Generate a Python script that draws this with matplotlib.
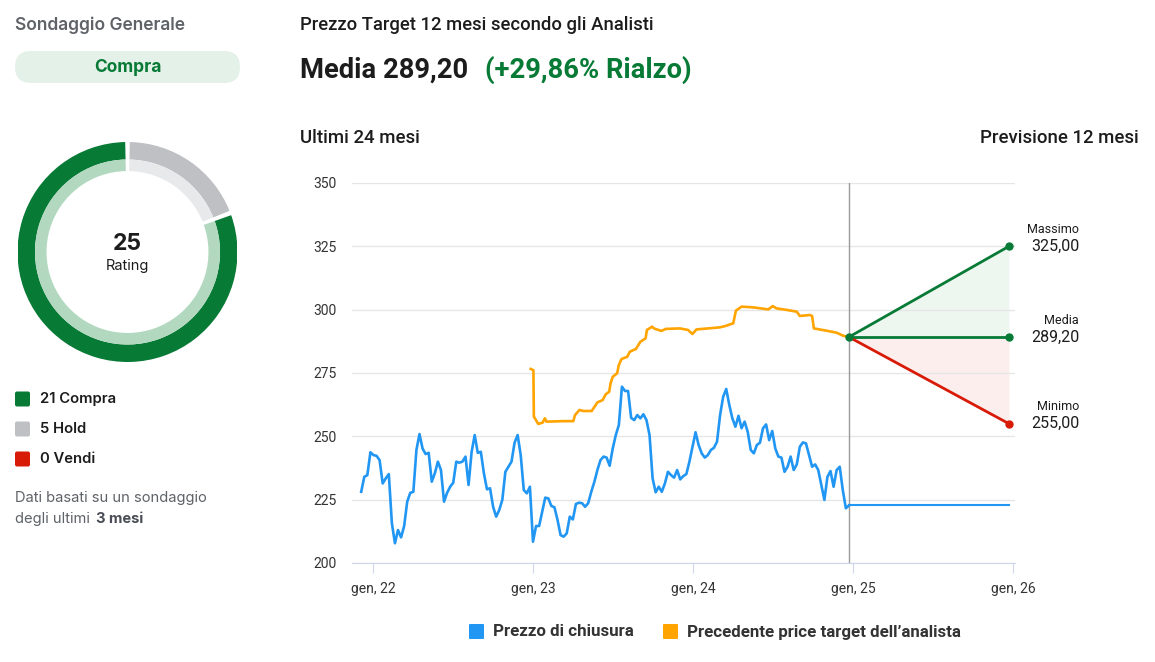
import matplotlib.pyplot as plt
import pandas as pd
from matplotlib.patches import Wedge, FancyBboxPatch

# --- data ---
close = [228.1, 234.0, 234.7, 243.7, 242.6, 242.3, 240.6, 231.4, 233.4, 235.1,
         215.7, 207.8, 213.0, 210.1, 214.6, 224.2, 227.7, 228.1, 244.6, 250.9,
         245.2, 243.0, 243.5, 232.1, 235.4, 240.0, 236.7, 224.2, 227.7, 230.1,
         231.7, 240.0, 239.6, 240.0, 242.0, 230.8, 243.9, 250.5, 243.5, 243.9,
         235.4, 229.1, 229.5, 222.2, 218.3, 220.9, 224.9, 236.0, 238.0, 240.0,
         247.5, 250.5, 242.6, 228.8, 227.5, 230.1, 208.4, 214.6, 214.6, 220.3,
         225.8, 225.5, 222.5, 222.0, 217.0, 211.0, 210.4, 211.7, 218.3, 217.2,
         223.3, 223.8, 223.6, 222.2, 223.6, 228.1, 232.0, 236.7, 240.6, 242.0,
         241.6, 238.4, 245.2, 250.5, 254.5, 269.6, 267.9, 267.9, 257.3, 256.4,
         258.4, 257.1, 258.7, 256.4, 250.5, 233.4, 227.9, 230.1, 228.1, 231.4,
         236.0, 234.7, 233.7, 236.7, 233.0, 234.3, 235.1, 240.0, 245.9, 251.6,
         246.6, 243.3, 241.6, 242.6, 244.6, 245.5, 247.9, 258.4, 265.6, 268.7,
         262.4, 257.1, 253.8, 258.1, 253.2, 255.8, 251.8, 244.6, 243.3, 246.6,
         247.5, 253.2, 254.7, 248.5, 252.1, 245.2, 242.0, 241.6, 236.0, 238.0,
         242.0, 236.7, 238.9, 245.9, 247.6, 247.2, 242.6, 238.0, 238.9, 236.7,
         230.8, 224.9, 234.0, 236.3, 230.1, 236.7, 238.0, 228.8, 221.6, 222.7]
close_start, close_end = "2021-12-05", "2024-12-22"

target_dates = ["2022-12-27", "2023-01-02", "2023-01-03", "2023-01-13", "2023-01-23",
                "2023-01-28", "2023-02-01", "2023-03-11", "2023-04-03", "2023-04-07",
                "2023-04-17", "2023-04-26", "2023-05-15", "2023-05-28", "2023-06-09",
                "2023-06-16", "2023-06-24", "2023-06-27", "2023-07-02", "2023-07-12",
                "2023-07-16", "2023-07-22", "2023-08-04", "2023-08-10", "2023-08-24",
                "2023-09-03", "2023-09-15", "2023-09-18", "2023-09-30", "2023-10-04",
                "2023-10-21", "2023-10-31", "2023-12-02", "2023-12-21", "2023-12-25",
                "2023-12-31", "2024-01-09", "2024-03-02", "2024-03-14", "2024-04-02",
                "2024-04-08", "2024-04-21", "2024-05-18", "2024-06-21", "2024-07-01",
                "2024-07-10", "2024-08-02", "2024-08-25", "2024-09-01", "2024-09-24",
                "2024-09-29", "2024-10-03", "2024-11-01", "2024-11-24", "2024-12-09",
                "2024-12-22"]
target_vals = [276.6, 276.1, 257.8, 254.9, 255.4, 257.1, 255.8, 256.0, 256.0, 258.4,
               260.4, 260.0, 260.0, 263.4, 264.3, 266.6, 267.6, 270.9, 273.5, 274.9,
               278.2, 280.5, 281.4, 283.4, 284.5, 287.3, 288.7, 292.0, 293.3, 292.6,
               291.6, 292.4, 292.6, 292.0, 291.3, 290.4, 292.2, 293.0, 293.5, 294.6,
               299.6, 301.2, 300.9, 300.1, 301.4, 300.5, 299.9, 299.2, 297.5, 297.9,
               297.5, 292.6, 291.7, 290.9, 289.7, 289.2]

forecast_names = ["Massimo", "Media", "Minimo"]
forecast_vals = [325.0, 289.2, 255.0]
today, horizon = "2024-12-22", "2025-12-22"

rating_labels = ["Compra", "Hold", "Vendi"]
rating_counts = [21, 5, 0]
rating_total = 25

year_ticks = ["2022-01-01", "2023-01-01", "2024-01-01", "2025-01-01", "2026-01-01"]
year_labels = ["gen, 22", "gen, 23", "gen, 24", "gen, 25", "gen, 26"]

# --- colours ---
GREEN, GREEN_L = "#077a36", "#b2d9bf"
GRAY, GRAY_L = "#bfc0c4", "#e8e9eb"
RED = "#d81b07"
BLUE, ORANGE = "#2196f3", "#ffa400"
DARK, MUTED = "#1c1c1c", "#5f6368"
LEFT, RIGHT = ["Inter", "DejaVu Sans"], ["Roboto", "DejaVu Sans"]

W, H = 1155, 662
fig = plt.figure(figsize=(W / 100, H / 100), dpi=100)

# overlay in pixel coordinates for the text blocks
ov = fig.add_axes([0, 0, 1, 1])
ov.set_xlim(0, W)
ov.set_ylim(H, 0)
ov.axis("off")

# left panel
ov.text(15, 25, "Sondaggio Generale", fontsize=12.5, fontweight="semibold", color=MUTED,
        va="center", family=LEFT)
ov.add_patch(FancyBboxPatch((15, 51), 225, 32, boxstyle="round,pad=0,rounding_size=16",
                            fc="#e4f1e8", ec="none"))
ov.text(127.5, 67.5, "Compra", fontsize=12.5, fontweight="bold", color=GREEN,
        ha="center", va="center", family=LEFT)

sq_cols = [GREEN, GRAY, RED]
for i, (lab, cnt) in enumerate(zip(rating_labels, rating_counts)):
    y = 399 + 30 * i
    ov.add_patch(FancyBboxPatch((15, y - 7.5), 15, 15, boxstyle="round,pad=0,rounding_size=2",
                                fc=sq_cols[i], ec="none"))
    ov.text(40, y, f"{cnt} {lab}", fontsize=10.7, fontweight="semibold", color=DARK,
            va="center", family=LEFT)

ov.text(15, 498, "Dati basati su un sondaggio", fontsize=10.6, color=MUTED, va="center", family=LEFT)
ov.text(15, 519, "degli ultimi", fontsize=10.6, color=MUTED, va="center", family=LEFT)
ov.text(96, 519, "3 mesi", fontsize=10.6, fontweight="bold", color="#4a4d55", va="center", family=LEFT)

# right headers
ov.text(300, 25, "Prezzo Target 12 mesi secondo gli Analisti", fontsize=13.3, fontweight="medium",
        color=DARK, va="center", family=RIGHT)
ov.text(300, 70, "Media 289,20", fontsize=19.7, fontweight="bold", color=DARK, va="center", family=RIGHT)
ov.text(485, 70, "(+29,86% Rialzo)", fontsize=19.7, fontweight="bold", color=GREEN, va="center",
        family=RIGHT)
ov.text(300, 138, "Ultimi 24 mesi", fontsize=13.4, fontweight="medium", color=DARK, va="center",
        family=RIGHT)
ov.text(1139, 138, "Previsione 12 mesi", fontsize=13.4, fontweight="medium", color=DARK, va="center",
        ha="right", family=RIGHT)

# bottom legend
for x0, col, lab in [(469, BLUE, "Prezzo di chiusura"),
                     (663, ORANGE, "Precedente price target dell\u2019analista")]:
    ov.add_patch(FancyBboxPatch((x0, 624), 15, 15, boxstyle="round,pad=0,rounding_size=1",
                                fc=col, ec="none"))
    ov.text(x0 + 24, 632, lab, fontsize=12.2, fontweight="bold", color="#333333", va="center",
            family=RIGHT)

# donut
dax = fig.add_axes([17.5 / W, 1 - 362 / H, 220 / W, 220 / H])
dax.set_xlim(-1, 1)
dax.set_ylim(-1, 1)
dax.set_aspect("equal")
dax.axis("off")
ring = [(rating_counts[1], GRAY, GRAY_L), (rating_counts[2], RED, "#f5c2bb"),
        (rating_counts[0], GREEN, GREEN_L)]
total = sum(rating_counts)
start = 90.0
gap = 1.2
for cnt, dark, light in ring:
    if cnt == 0:
        continue
    span = 360.0 * cnt / total
    t1, t2 = start - span + gap, start - gap
    dax.add_patch(Wedge((0, 0), 1.0, t1, t2, width=1.0 - 0.841, fc=dark, ec="none"))
    dax.add_patch(Wedge((0, 0), 0.841, t1, t2, width=0.841 - 0.736, fc=light, ec="none"))
    start -= span
dax.text(0, 0.07, str(rating_total), fontsize=16.5, fontweight="bold", color=DARK,
         ha="center", va="center", family=LEFT)
dax.text(0, -0.13, "Rating", fontsize=10.5, color=DARK, ha="center", va="center", family=LEFT)

# main chart
ax = fig.add_axes([352 / W, 1 - 563 / H, 663 / W, 380 / H])
cd = pd.date_range(close_start, close_end, periods=len(close))
td = pd.to_datetime(target_dates)
t0, t1 = pd.Timestamp(today), pd.Timestamp(horizon)

ax.axvline(t0, color="#9a9a9a", lw=1, zorder=1)
ax.plot(cd, close, color=BLUE, lw=1.9, zorder=3)
ax.plot([t0, t1], [close[-1], close[-1]], color=BLUE, lw=1.5, zorder=3)
ax.plot(td, target_vals, color=ORANGE, lw=1.9, zorder=3)

mean = forecast_vals[1]
ax.fill_between([t0, t1], [mean, mean], [mean, forecast_vals[0]], color="#eef6f0", lw=0, zorder=0)
ax.fill_between([t0, t1], [mean, mean], [mean, forecast_vals[2]], color="#fdeeee", lw=0, zorder=0)
fc_cols = [GREEN, GREEN, RED]
for name, val, col in zip(forecast_names, forecast_vals, fc_cols):
    ax.plot([t0, t1], [mean, val], color=col, lw=2, zorder=4)
    ax.plot([t1], [val], "o", color=col, ms=5, zorder=5)
    ax.annotate(name, xy=(t1, val), xytext=(50.5, 12), textcoords="offset points",
                ha="right", va="center", fontsize=9, color=DARK, family=RIGHT,
                annotation_clip=False)
    ax.annotate(f"{val:.2f}".replace(".", ","), xy=(t1, val), xytext=(50.5, 0),
                textcoords="offset points", ha="right", va="center", fontsize=11.5,
                color=DARK, family=RIGHT, annotation_clip=False)
ax.plot([t0], [mean], "o", color=GREEN, ms=5, zorder=5)

ax.set_xlim(pd.Timestamp("2021-11-14"), pd.Timestamp("2026-01-05"))
ax.set_ylim(200, 350)
ax.set_yticks([200, 225, 250, 275, 300, 325, 350])
ax.set_xticks(pd.to_datetime(year_ticks))
ax.set_xticklabels(year_labels)
ax.grid(axis="y", color="#e6e6e6", lw=1)
ax.set_axisbelow(True)
for s in ["top", "right", "left"]:
    ax.spines[s].set_visible(False)
ax.spines["bottom"].set_color("#ccd6eb")
ax.tick_params(axis="y", length=0, pad=11, labelsize=10, labelcolor="#333333")
ax.tick_params(axis="x", length=7, color="#ccd6eb", pad=7, labelsize=10, labelcolor="#333333")
for lab in ax.get_xticklabels() + ax.get_yticklabels():
    lab.set_family(RIGHT)

fig.savefig("out.png", dpi=100)
